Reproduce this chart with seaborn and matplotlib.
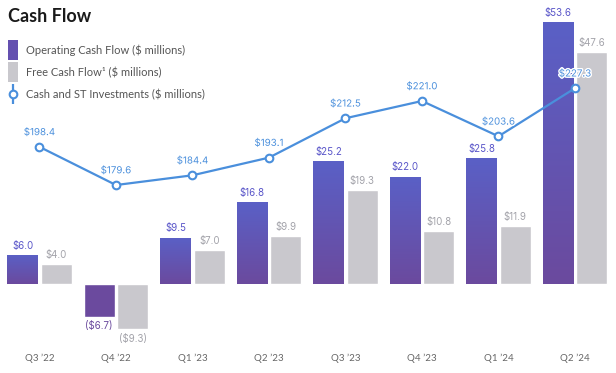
import numpy as np
import pandas as pd
import matplotlib
matplotlib.use("Agg")
import matplotlib.pyplot as plt
import matplotlib.patheffects as pe
from matplotlib.colors import LinearSegmentedColormap
from matplotlib.lines import Line2D
import seaborn as sns

# data
quarters = ["Q3 ’22", "Q4 ’22", "Q1 ’23", "Q2 ’23", "Q3 ’23", "Q4 ’23", "Q1 ’24", "Q2 ’24"]
ocf = [6.0, -6.7, 9.5, 16.8, 25.2, 22.0, 25.8, 53.6]
fcf = [4.0, -9.3, 7.0, 9.9, 19.3, 10.8, 11.9, 47.6]
cash = [198.4, 179.6, 184.4, 193.1, 212.5, 221.0, 203.6, 227.3]

series_names = ["Operating Cash Flow ($ millions)", "Free Cash Flow¹ ($ millions)",
                "Cash and ST Investments ($ millions)"]

# colours
OCF_TOP = "#5a60c6"
OCF_BOTTOM = "#6b4a9e"
FCF_COL = "#c9c8cd"
LINE_COL = "#4a8fdc"
OCF_LABEL = "#5a56c9"
FCF_LABEL = "#a3a3aa"

sns.set_theme(style="white")
plt.rcParams["font.family"] = ["Lato", "DejaVu Sans"]

df = pd.DataFrame({
    "quarter": quarters * 2,
    "value": ocf + fcf,
    "series": [series_names[0]] * len(quarters) + [series_names[1]] * len(quarters),
})

fig = plt.figure(figsize=(6.16, 3.73), dpi=100)
ax = fig.add_axes([0, 28 / 373, 1, 345 / 373])

sns.barplot(data=df, x="quarter", y="value", hue="series", order=quarters,
            hue_order=series_names[:2], palette=[OCF_BOTTOM, FCF_COL],
            width=0.88, gap=0.08, legend=False, ax=ax, saturation=1)

# gradient fill on the operating cash flow bars
grad = LinearSegmentedColormap.from_list("ocf", [OCF_BOTTOM, OCF_TOP])
for bar in ax.containers[0]:
    x, y = bar.get_x(), bar.get_y()
    w, h = bar.get_width(), bar.get_height()
    if h > 0:
        im = ax.imshow(np.linspace(0, 1, 100).reshape(-1, 1), cmap=grad, origin="lower",
                       extent=[x, x + w, y, y + h], aspect="auto", zorder=bar.get_zorder() + 0.1)
        im.set_clip_path(bar)

# bar labels
def money(v):
    return f"${v:.1f}" if v >= 0 else f"(${-v:.1f})"

for cont, vals, col in [(ax.containers[0], ocf, OCF_LABEL), (ax.containers[1], fcf, FCF_LABEL)]:
    texts = ax.bar_label(cont, labels=[money(v) for v in vals], padding=3,
                         fontsize=7, family=["Inter", "DejaVu Sans"])
    for t, v in zip(texts, vals):
        t.set_color(col if v >= 0 else (OCF_BOTTOM if col == OCF_LABEL else FCF_LABEL))

ax.set_xlim(-0.516, 7.536)
ax.set_ylim(-12.5, 58.2)
ax.set_xlabel("")
ax.set_ylabel("")
ax.set_yticks([])
ax.tick_params(axis="x", length=0, pad=6, labelsize=7, labelcolor="#666666")
sns.despine(ax=ax, left=True, bottom=True)

# cash line on its own scale
ax2 = ax.twinx()
xs = np.arange(len(quarters))
sns.lineplot(x=xs, y=cash, ax=ax2, color=LINE_COL, linewidth=1.6, marker="o",
             markersize=5.5, markerfacecolor="white", markeredgecolor=LINE_COL,
             markeredgewidth=1.5)
for xi, v in zip(xs, cash):
    ax2.annotate(f"${v:.1f}", (xi, v), xytext=(0, 7), textcoords="offset points",
                 ha="center", va="bottom", fontsize=7, color=LINE_COL,
                 family=["Inter", "DejaVu Sans"],
                 path_effects=[pe.withStroke(linewidth=2, foreground="white")])
ax2.set_ylim(100.8, 270.75)
ax2.set_yticks([])
ax2.set_ylabel("")
sns.despine(ax=ax2, left=True, bottom=True, right=True)

# title and legend
fig.text(8 / 616, 1 - 8 / 373, "Cash Flow", ha="left", va="top", fontsize=13,
         fontweight="bold", color="#1a1a1a")

bar_marker = [(-0.5, -1), (0.5, -1), (0.5, 1), (-0.5, 1), (-0.5, -1)]
handles = [
    Line2D([], [], linestyle="none", marker=bar_marker, markersize=14,
           markerfacecolor="#6450b0", markeredgewidth=0),
    Line2D([], [], linestyle="none", marker=bar_marker, markersize=14,
           markerfacecolor=FCF_COL, markeredgewidth=0),
    (Line2D([], [], linestyle="none", marker="|", markersize=14, color=LINE_COL,
            markeredgewidth=1.6),
     Line2D([], [], linestyle="none", marker="o", markersize=5.5, markerfacecolor="white",
            markeredgecolor=LINE_COL, markeredgewidth=1.5)),
]
fig.legend(handles, series_names, loc="upper left", bbox_to_anchor=(7 / 616, 1 - 44 / 373),
           frameon=False, fontsize=8, labelcolor="#555555", handlelength=1.0,
           handletextpad=0.75, labelspacing=1.0, borderpad=0, borderaxespad=0)

fig.savefig("out.png", dpi=100)
